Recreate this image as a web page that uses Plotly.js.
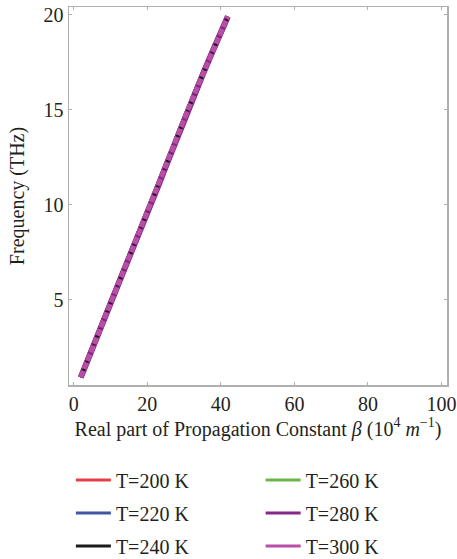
<!DOCTYPE html>
<html><head><meta charset="utf-8">
<script src="https://cdn.plot.ly/plotly-3.0.1.min.js"></script>
<style>body{margin:0;background:#fff}#c{width:457px;height:559px}</style>
</head><body><div id="c"></div>
<script>
const freq = [0.9, 2, 3, 4, 5, 6, 7, 8, 9, 10, 11, 12, 13, 14, 15, 16, 17, 18, 19, 19.9];
const beta200 = [1.9, 4.1, 6.2, 8.3, 10.4, 12.5, 14.6, 16.8, 18.9, 21.0, 23.0, 25.0, 27.0, 29.0, 31.0, 33.2, 35.4, 37.6, 39.8, 41.9];
const beta220 = [1.9, 4.1, 6.2, 8.3, 10.4, 12.5, 14.6, 16.8, 18.9, 21.0, 23.0, 25.0, 27.0, 29.0, 31.0, 33.2, 35.4, 37.6, 39.8, 41.9];
const beta240 = [1.9, 4.1, 6.2, 8.3, 10.4, 12.5, 14.6, 16.8, 18.9, 21.0, 23.0, 25.0, 27.0, 29.0, 31.0, 33.2, 35.4, 37.6, 39.8, 41.9];
const beta260 = [1.9, 4.1, 6.2, 8.3, 10.4, 12.5, 14.6, 16.8, 18.9, 21.0, 23.0, 25.0, 27.0, 29.0, 31.0, 33.2, 35.4, 37.6, 39.8, 41.9];
const beta280 = [1.9, 4.1, 6.2, 8.3, 10.4, 12.5, 14.6, 16.8, 18.9, 21.0, 23.0, 25.0, 27.0, 29.0, 31.0, 33.2, 35.4, 37.6, 39.8, 41.9];
const beta300 = [1.9, 4.1, 6.2, 8.3, 10.4, 12.5, 14.6, 16.8, 18.9, 21.0, 23.0, 25.0, 27.0, 29.0, 31.0, 33.2, 35.4, 37.6, 39.8, 41.9];
const labels = ['T=200 K','T=220 K','T=240 K','T=260 K','T=280 K','T=300 K'];
const colors = ['#e5404a','#3f55a5','#1b1b1b','#6ab648','#86278a','#b94ea6'];
const xTicks = [0, 20, 40, 60, 80, 100];
const yTicks = [5, 10, 15, 20];

const series = [beta200, beta220, beta240, beta260, beta280, beta300];
const widths = [5, 5, 3.5, 5, 6, 5];
const dashes = ['solid','solid','dot','solid','solid','7px,2px'];
const drawOrder = [0, 1, 3, 4, 2, 5];
const traces = drawOrder.map(i => ({
  x: series[i], y: freq, type: 'scatter', mode: 'lines', name: labels[i],
  line: {color: colors[i], width: widths[i], dash: dashes[i]},
  showlegend: false, hoverinfo: 'skip'
}));
// legend entries (solid sample lines, as in the reference key)
labels.forEach((lab, i) => traces.push({
  x: [null], y: [null], type: 'scatter', mode: 'lines', name: lab,
  line: {color: colors[i], width: 3},
  legend: i < 3 ? 'legend' : 'legend2', legendgroup: 'g' + i, showlegend: true
}));

const font = {family: 'Liberation Serif, serif', color: '#231f20', size: 20};
const legendBase = {
  orientation: 'v', yanchor: 'top', xanchor: 'left', yref: 'container', font: font,
  bgcolor: 'rgba(0,0,0,0)', tracegroupgap: 4, itemwidth: 35, traceorder: 'grouped'
};
const layout = {
  width: 457, height: 559, margin: {l: 69, r: 10, t: 7, b: 174},
  paper_bgcolor: '#fff', plot_bgcolor: '#fff', font: font, showlegend: true,
  xaxis: {range: [-1.3, 101.5], tickvals: xTicks, showgrid: false, zeroline: false,
    showline: true, mirror: 'ticks', linecolor: '#b0b0b0', linewidth: 1.5,
    ticks: 'inside', ticklen: 3, tickcolor: '#b0b0b0', tickfont: {size: 20},
    title: {text: 'Real part of Propagation Constant <i>β</i> (10<sup>4</sup> <i>m</i><sup>−1</sup>)', font: {size: 20}, standoff: 8}},
  yaxis: {range: [0.5, 20.4], tickvals: yTicks, showgrid: false, zeroline: false,
    showline: true, mirror: 'ticks', linecolor: '#b0b0b0', linewidth: 1.5,
    ticks: 'inside', ticklen: 3, tickcolor: '#b0b0b0', tickfont: {size: 20},
    title: {text: 'Frequency (THz)', font: {size: 20}, standoff: 13}},
  legend: Object.assign({}, legendBase, {x: 0.005, y: 0.176}),
  legend2: Object.assign({}, legendBase, {x: 0.507, y: 0.176})
};
Plotly.newPlot('c', traces, layout, {staticPlot: true});
</script></body></html>
